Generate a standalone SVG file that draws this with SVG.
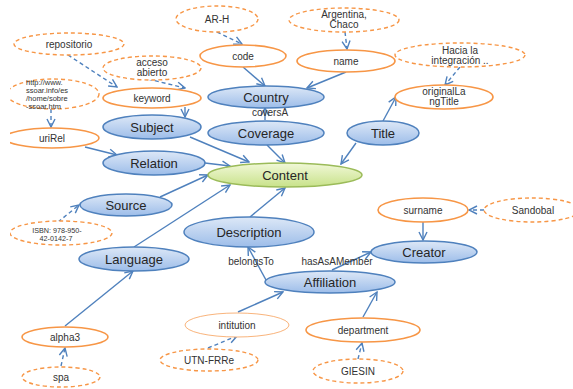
<svg xmlns="http://www.w3.org/2000/svg" width="573" height="389" viewBox="0 0 573 389">
<defs>
<linearGradient id="gb" x1="0" y1="0" x2="0" y2="1"><stop offset="0" stop-color="#dde8f7"/><stop offset="1" stop-color="#9dbde9"/></linearGradient>
<linearGradient id="gg" x1="0" y1="0" x2="0" y2="1"><stop offset="0" stop-color="#f1f8d8"/><stop offset="1" stop-color="#c8e28a"/></linearGradient>
<marker id="a" viewBox="0 0 10 10" refX="9" refY="5" markerWidth="10" markerHeight="10" orient="auto" markerUnits="userSpaceOnUse"><path d="M1,1 L9,5 L1,9" fill="none" stroke="#4f81bd" stroke-width="1.4"/></marker>
<clipPath id="clip"><rect x="10" y="0" width="563" height="389"/></clipPath>
</defs>
<style>
.blue ellipse{fill:url(#gb);stroke:#4f81bd;stroke-width:1.5}
.green ellipse{fill:url(#gg);stroke:#9bbb59;stroke-width:1.5}
.prop ellipse{fill:#fff;stroke:#f79646;stroke-width:1.6}
.lit ellipse{fill:#fff;stroke:#f79646;stroke-width:1.4;stroke-dasharray:4 3}
.thin ellipse{stroke:#f9b47c;stroke-width:1}
text{font-family:"Liberation Sans",Arial,sans-serif;text-anchor:middle;fill:#333}
.blue text,.green text{font-size:13px;fill:#262626}
.prop text,.lit text{font-size:10px}
.small text{font-size:7.5px;text-anchor:start}
#edges line{stroke:#4f81bd;stroke-width:1.4;marker-end:url(#a)}
#edges line.d{stroke-dasharray:4 3}
.lbl{font-size:10px;fill:#333}
</style>
<rect width="573" height="389" fill="#fff"/>
<g clip-path="url(#clip)">
<g id="edges">
<line x1="243" y1="67" x2="265" y2="86"/>
<line x1="346" y1="72" x2="307" y2="88"/>
<line x1="185" y1="107" x2="185" y2="117"/>
<line x1="265" y1="120" x2="265" y2="108"/>
<line x1="190" y1="137" x2="249" y2="162"/>
<line x1="267" y1="145" x2="285" y2="163"/>
<line x1="205" y1="163" x2="230" y2="166"/>
<line x1="85" y1="147" x2="117" y2="155"/>
<line x1="383" y1="121" x2="396" y2="97"/>
<line x1="356" y1="143" x2="341" y2="164"/>
<line x1="160" y1="197" x2="208" y2="175"/>
<line x1="134" y1="247" x2="230" y2="185"/>
<line x1="65" y1="326" x2="133" y2="271"/>
<line x1="250" y1="217" x2="285" y2="188"/>
<line x1="266" y1="280" x2="248" y2="247"/>
<line x1="332" y1="270" x2="371" y2="252"/>
<line x1="238" y1="312" x2="283" y2="292"/>
<line x1="363" y1="317" x2="377" y2="292"/>
<line x1="423" y1="222" x2="423" y2="240"/>
<line class="d" x1="217" y1="32" x2="242" y2="44"/>
<line class="d" x1="345" y1="32" x2="347" y2="49"/>
<line class="d" x1="68" y1="55" x2="117" y2="87"/>
<line class="d" x1="148" y1="79" x2="185" y2="88"/>
<line class="d" x1="51" y1="109" x2="51" y2="127"/>
<line class="d" x1="460" y1="67" x2="445" y2="85"/>
<line class="d" x1="58" y1="222" x2="79" y2="205"/>
<line class="d" x1="61" y1="366" x2="65" y2="348"/>
<line class="d" x1="208" y1="348" x2="237" y2="336"/>
<line class="d" x1="358" y1="359" x2="362" y2="343"/>
<line class="d" x1="484" y1="210" x2="469" y2="210"/>
<text class="lbl" x="270" y="116">coversA</text>
<text class="lbl" x="251" y="265">belongsTo</text>
<text class="lbl" x="337" y="265">hasAsAMember</text>
</g>
<g id="n-arh" class="lit"><ellipse cx="217" cy="19" rx="41" ry="13"/><text x="217" y="23">AR-H</text></g>
<g id="n-arg" class="lit"><ellipse cx="344" cy="20" rx="55" ry="12"/><text x="344" y="18">Argentina,</text><text x="344" y="28">Chaco</text></g>
<g id="n-repo" class="lit"><ellipse cx="69" cy="44" rx="55" ry="11"/><text x="69" y="48">repositorio</text></g>
<g id="n-acceso" class="lit"><ellipse cx="152" cy="68" rx="49" ry="12"/><text x="152" y="66">acceso</text><text x="152" y="76">abierto</text></g>
<g id="n-hacia" class="lit"><ellipse cx="460" cy="55" rx="65" ry="12"/><text x="460" y="54">Hacia la</text><text x="460" y="64">integración ..</text></g>
<g id="n-http" class="lit small"><ellipse cx="53" cy="94" rx="46" ry="15"/><text x="26" y="85">http://www.</text><text x="26" y="93">ssoar.info/es</text><text x="26" y="101">/home/sobre</text><text x="26" y="109">-ssoar.htm</text></g>
<g id="n-isbn" class="lit"><ellipse cx="61" cy="233" rx="51" ry="12"/><text x="57" y="233" style="font-size:7.2px">ISBN: 978-950-</text><text x="56" y="241" style="font-size:7.2px">42-0142-7</text></g>
<g id="n-spa" class="lit"><ellipse cx="61" cy="377" rx="39" ry="10"/><text x="61" y="381">spa</text></g>
<g id="n-utn" class="lit"><ellipse cx="209" cy="360" rx="49" ry="11"/><text x="209" y="364">UTN-FRRe</text></g>
<g id="n-giesin" class="lit"><ellipse cx="358" cy="371" rx="45" ry="12"/><text x="358" y="375">GIESIN</text></g>
<g id="n-sandobal" class="lit"><ellipse cx="532" cy="210" rx="48" ry="12"/><text x="533" y="214">Sandobal</text></g>
<g id="n-code" class="prop"><ellipse cx="243" cy="56" rx="43" ry="11"/><text x="243" y="60">code</text></g>
<g id="n-name" class="prop"><ellipse cx="346" cy="61" rx="49" ry="11"/><text x="346" y="65">name</text></g>
<g id="n-keyword" class="prop"><ellipse cx="152" cy="98" rx="49" ry="10"/><text x="152" y="102">keyword</text></g>
<g id="n-olt" class="prop"><ellipse cx="444" cy="97" rx="49" ry="12"/><text x="444" y="95">originalLa</text><text x="444" y="105">ngTitle</text></g>
<g id="n-urirel" class="prop"><ellipse cx="52" cy="138" rx="47" ry="10"/><text x="52" y="142">uriRel</text></g>
<g id="n-alpha3" class="prop"><ellipse cx="65" cy="337" rx="43" ry="10"/><text x="65" y="341">alpha3</text></g>
<g id="n-intitution" class="prop thin"><ellipse cx="237" cy="325" rx="52" ry="12"/><text x="237" y="329">intitution</text></g>
<g id="n-department" class="prop"><ellipse cx="363" cy="330" rx="57" ry="12"/><text x="363" y="334">department</text></g>
<g id="n-surname" class="prop"><ellipse cx="423" cy="210" rx="45" ry="12"/><text x="423" y="214">surname</text></g>
<g id="n-country" class="blue"><ellipse cx="266" cy="97" rx="58" ry="11"/><text x="266" y="102">Country</text></g>
<g id="n-subject" class="blue"><ellipse cx="152" cy="127" rx="49" ry="12"/><text x="152" y="132">Subject</text></g>
<g id="n-coverage" class="blue"><ellipse cx="266" cy="133" rx="58" ry="12"/><text x="266" y="138">Coverage</text></g>
<g id="n-relation" class="blue"><ellipse cx="154" cy="163" rx="51" ry="12"/><text x="154" y="168">Relation</text></g>
<g id="n-title" class="blue"><ellipse cx="383" cy="133" rx="36" ry="12"/><text x="383" y="138">Title</text></g>
<g id="n-source" class="blue"><ellipse cx="126" cy="205" rx="46" ry="11"/><text x="126" y="210">Source</text></g>
<g id="n-language" class="blue"><ellipse cx="134" cy="259" rx="55" ry="12"/><text x="134" y="264">Language</text></g>
<g id="n-description" class="blue"><ellipse cx="249" cy="232" rx="65" ry="15"/><text x="249" y="237">Description</text></g>
<g id="n-affiliation" class="blue"><ellipse cx="330" cy="282" rx="65" ry="11"/><text x="330" y="287">Affiliation</text></g>
<g id="n-creator" class="blue"><ellipse cx="424" cy="252" rx="53" ry="11"/><text x="424" y="257">Creator</text></g>
<g id="n-content" class="green"><ellipse cx="285" cy="175" rx="77" ry="12"/><text x="285" y="180">Content</text></g>
</g>
</svg>
